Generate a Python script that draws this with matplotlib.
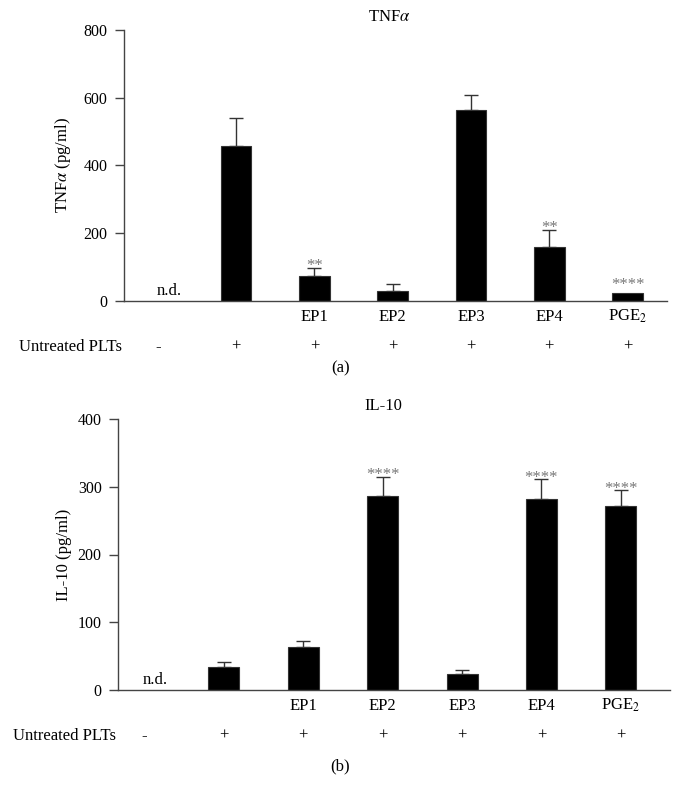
import matplotlib
matplotlib.use("Agg")
import matplotlib.pyplot as plt
import numpy as np

plt.rcParams['font.family'] = ['Liberation Serif', 'DejaVu Serif']
plt.rcParams['mathtext.fontset'] = 'stix'

# ---- data ----
groups = ['', '', 'EP1', 'EP2', 'EP3', 'EP4', 'PGE$_2$']
untreated = ['-', '+', '+', '+', '+', '+', '+']

tnf_mean = [0, 456, 73, 30, 564, 158, 23]
tnf_err = [0, 84, 25, 20, 44, 52, 0]
tnf_sig = ['', '', '**', '', '', '**', '****']

il10_mean = [0, 34, 64, 286, 23.6, 282, 271]
il10_err = [0, 8, 9, 29, 6, 29, 24]
il10_sig = ['', '', '', '****', '', '****', '****']

AX_COLOR = '#444444'
STAR_COLOR = '#777777'
FS = 12
TFS = 11.5
PX = 72 / 100  # points per pixel

fig = plt.figure(figsize=(6.81, 7.99), dpi=100)


def panel(rect, means, errs, sigs, ylim, yticks, title, title_x, ylabel, ylab_x,
          xlim, letter, letter_y):
    ax = fig.add_axes(rect)
    x = np.arange(len(means))
    mask = x > 0
    m = np.array(means, dtype=float)
    e = np.array(errs, dtype=float)
    ax.bar(x[mask], m[mask], width=0.39, color='black',
           edgecolor='#333333', linewidth=0.8, zorder=2)
    for xi, mi, ei in zip(x[mask], m[mask], e[mask]):
        if ei > 0:
            ax.errorbar([xi], [mi], yerr=[[0], [ei]], fmt='none', ecolor='#333333',
                        elinewidth=1.0, capsize=5, capthick=1.0, zorder=1)
    for xi, mi, ei, s in zip(x, m, e, sigs):
        if s:
            ax.annotate(s, xy=(xi, mi + ei), xytext=(0, -2.5 * PX if ei > 0 else 2.5),
                        textcoords='offset points', ha='center', va='baseline',
                        fontsize=12, color=STAR_COLOR)
    ax.annotate('n.d.', xy=(0.14, 0), xytext=(0, 5.5 * PX), textcoords='offset points',
                ha='center', va='baseline', fontsize=FS)
    ax.set_xlim(*xlim)
    ax.set_ylim(*ylim)
    ax.set_yticks(yticks)
    ax.set_xticks([])
    ax.tick_params(axis='y', length=6.5, width=1, color=AX_COLOR, labelsize=TFS, pad=5.5)
    for sp in ['top', 'right']:
        ax.spines[sp].set_visible(False)
    for sp in ['left', 'bottom']:
        ax.spines[sp].set_color(AX_COLOR)
        ax.spines[sp].set_linewidth(1.0)
    # category labels
    for xi, g in zip(x, groups):
        if g:
            ax.annotate(g, xy=(xi, 0), xycoords=('data', 'axes fraction'),
                        xytext=(0, -20 * PX), textcoords='offset points',
                        ha='center', va='baseline', fontsize=FS)
    # untreated row
    for xi, u in zip(x, untreated):
        ax.annotate(u, xy=(xi, 0), xycoords=('data', 'axes fraction'),
                    xytext=(0, -50 * PX), textcoords='offset points',
                    ha='center', va='baseline', fontsize=FS)
    ax.annotate('Untreated PLTs', xy=(0, 0), xycoords='axes fraction',
                xytext=(-2.5 * PX, -50 * PX), textcoords='offset points',
                ha='right', va='baseline', fontsize=FS)
    # title
    fig.text(title_x, rect[1] + rect[3] + 13.5 / 799, title, ha='center', va='center',
             fontsize=FS)
    ax.set_ylabel(ylabel, fontsize=FS)
    ax.yaxis.set_label_coords(ylab_x, 0.5)
    fig.text(0.5, letter_y, letter, ha='center', va='center', fontsize=FS)
    return ax


panel([124.3 / 681, 1 - 300.7 / 799, (666.7 - 124.3) / 681, (300.7 - 30) / 799],
      tnf_mean, tnf_err, tnf_sig, (0, 800), [0, 200, 400, 600, 800],
      r'TNF$\alpha$', 389 / 681, r'TNF$\alpha$ (pg/ml)', (73 - 124.3) / 542.4,
      (-0.43, 6.5), '(a)', 1 - 368 / 799)

panel([118.3 / 681, 1 - 690 / 799, (670 - 118.3) / 681, (690 - 419) / 799],
      il10_mean, il10_err, il10_sig, (0, 400), [0, 100, 200, 300, 400],
      'IL-10', 383.5 / 681, 'IL-10 (pg/ml)', (71.7 - 118.3) / 551.7,
      (-0.33, 6.62), '(b)', 1 - 766.7 / 799)

fig.savefig('out.png', dpi=100)
